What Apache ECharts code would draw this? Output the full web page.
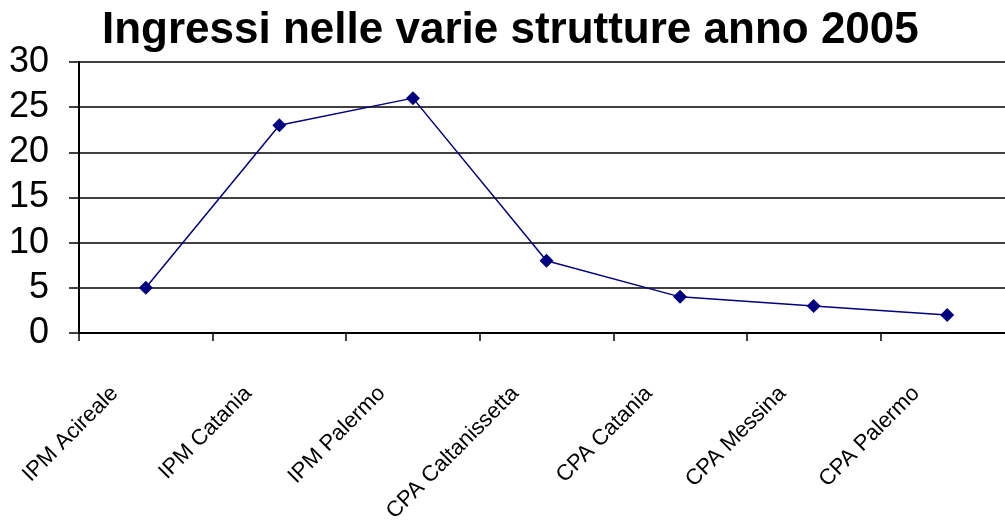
<!DOCTYPE html>
<html>
<head>
<meta charset="utf-8">
<script src="https://cdn.jsdelivr.net/npm/echarts@6/dist/echarts.min.js"></script>
<style>
html,body{margin:0;padding:0;background:#fff;}
#chart{width:1005px;height:520px;}
</style>
</head>
<body>
<div id="chart"></div>
<script>
var titleText = 'Ingressi nelle varie strutture anno 2005';
var categories = ['IPM Acireale', 'IPM Catania', 'IPM Palermo', 'CPA Caltanissetta', 'CPA Catania', 'CPA Messina', 'CPA Palermo'];
var values = [5, 23, 26, 8, 4, 3, 2];
var yMin = 0, yMax = 30, yStep = 5;

var FONT = 'Arial, "Liberation Sans", sans-serif';
var chart = echarts.init(document.getElementById('chart'));
chart.setOption({
  animation: false,
  backgroundColor: '#ffffff',
  title: {
    text: titleText,
    left: 97,
    top: 4,
    textStyle: { fontFamily: FONT, fontSize: 44, fontWeight: 'bold', color: '#000' }
  },
  grid: { left: 79, width: 935, top: 62, height: 271, containLabel: false, outerBoundsMode: 'none' },
  xAxis: {
    type: 'category',
    data: categories,
    boundaryGap: true,
    axisLine: { show: true, lineStyle: { color: '#000', width: 2 } },
    axisTick: { show: true, length: 8, lineStyle: { color: '#000', width: 1.5 } },
    axisLabel: {
      rotate: 45,
      interval: 0,
      margin: 26,
      padding: [0, 44, 0, 0],
      fontFamily: FONT,
      fontSize: 22,
      color: '#000'
    },
    splitLine: { show: false }
  },
  yAxis: {
    type: 'value',
    min: yMin,
    max: yMax,
    interval: yStep,
    axisLine: { show: true, lineStyle: { color: '#000', width: 2 } },
    axisTick: { show: true, length: 10, lineStyle: { color: '#000', width: 1.5 } },
    axisLabel: { margin: 30, fontFamily: FONT, fontSize: 36, color: '#000' },
    splitLine: { show: true, lineStyle: { color: '#000', width: 1.5 } }
  },
  series: [{
    type: 'line',
    data: values,
    symbol: 'diamond',
    symbolSize: 14,
    showAllSymbol: true,
    lineStyle: { color: '#000080', width: 1.5 },
    itemStyle: { color: '#000080' }
  }]
});
</script>
</body>
</html>
